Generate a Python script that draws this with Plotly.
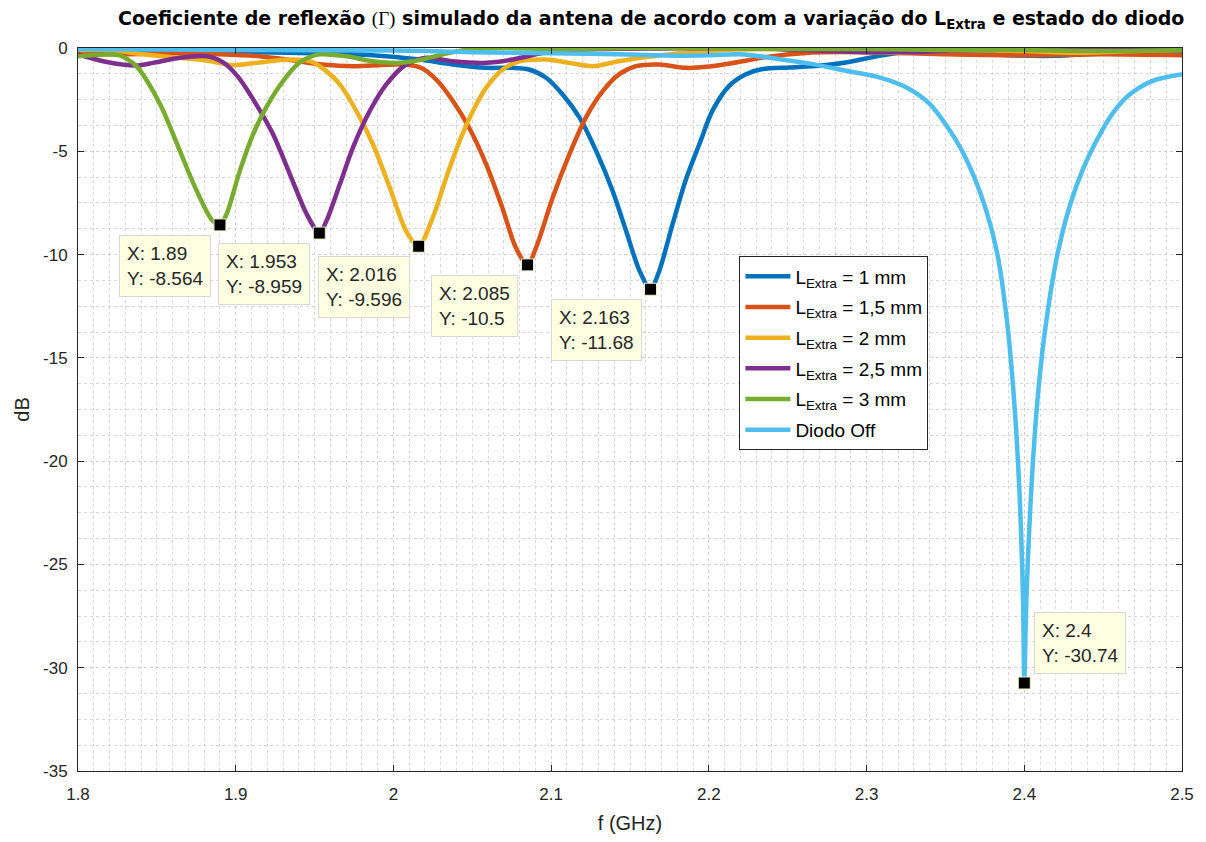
import plotly.graph_objects as go

# ---------------- data ----------------
f_l1 = [1.80, 1.85, 1.90, 1.95, 1.975, 1.995, 2.0166, 2.0377, 2.0588, 2.0755, 2.086, 2.0968,
        2.1073, 2.118, 2.1285, 2.139, 2.1475, 2.156, 2.163, 2.1686, 2.177, 2.1855, 2.194,
        2.2023, 2.2129, 2.2235, 2.234, 2.251, 2.27, 2.2868, 2.308, 2.329, 2.36, 2.39, 2.42,
        2.45, 2.50]
db_l1 = [-0.10, -0.15, -0.20, -0.25, -0.30, -0.40, -0.56, -0.80, -0.96, -0.96, -1.04, -1.44,
         -2.25, -3.37, -4.98, -6.92, -8.85, -10.78, -11.68, -10.78, -8.53, -6.35, -4.65,
         -3.03, -1.83, -1.27, -1.02, -0.94, -0.86, -0.70, -0.38, -0.14, -0.20, -0.35, -0.38,
         -0.25, -0.20]

f_l15 = [1.80, 1.83, 1.86, 1.89, 1.915, 1.936, 1.955, 1.975, 1.993, 2.008, 2.0187, 2.028,
         2.0377, 2.048, 2.0588, 2.069, 2.0775, 2.085, 2.0905, 2.101, 2.1116, 2.122, 2.1327,
         2.143, 2.1538, 2.1686, 2.1855, 2.2002, 2.2235, 2.234, 2.2656, 2.30, 2.35, 2.40,
         2.45, 2.50]
db_l15 = [-0.30, -0.30, -0.25, -0.30, -0.40, -0.60, -0.80, -0.88, -0.82, -0.80, -1.00, -1.60,
          -2.57, -3.86, -5.63, -7.72, -9.65, -10.50, -9.65, -7.24, -5.14, -3.37, -2.09,
          -1.28, -0.88, -0.80, -0.96, -0.90, -0.62, -0.46, -0.22, -0.20, -0.30, -0.35,
          -0.30, -0.35]

f_l2 = [1.80, 1.82, 1.841, 1.86, 1.877, 1.888, 1.898, 1.913, 1.934, 1.947, 1.9575, 1.966,
        1.9765, 1.987, 1.9976, 2.008, 2.016, 2.025, 2.0335, 2.042, 2.0504, 2.0588, 2.0693,
        2.08, 2.0968, 2.1116, 2.1263, 2.143, 2.1643, 2.1855, 2.21, 2.25, 2.28, 2.32, 2.36,
        2.40, 2.43, 2.47, 2.50]
db_l2 = [-0.10, -0.10, -0.30, -0.45, -0.56, -0.70, -0.83, -0.72, -0.56, -0.64, -1.12, -1.76,
         -3.05, -4.66, -6.74, -8.85, -9.596, -8.20, -6.27, -4.50, -3.05, -1.92, -1.04,
         -0.64, -0.56, -0.72, -0.88, -0.64, -0.40, -0.23, -0.10, -0.05, -0.10, -0.23, -0.10,
         -0.15, -0.23, -0.15, -0.10]

f_l25 = [1.80, 1.816, 1.837, 1.8477, 1.8646, 1.8815, 1.892, 1.9015, 1.913, 1.9237, 1.9343,
         1.945, 1.953, 1.9575, 1.966, 1.9743, 1.985, 1.9955, 2.008, 2.021, 2.0375, 2.0588,
         2.0755, 2.101, 2.13, 2.17, 2.22, 2.26, 2.30, 2.33, 2.36, 2.40, 2.44, 2.47, 2.50]
db_l25 = [-0.31, -0.64, -0.85, -0.72, -0.47, -0.40, -0.70, -1.40, -2.73, -4.18, -6.10,
          -8.04, -8.959, -8.37, -6.60, -4.82, -3.05, -1.76, -0.80, -0.47, -0.64, -0.72,
          -0.56, -0.15, -0.05, -0.02, 0.00, -0.10, -0.20, -0.20, -0.10, 0.00, 0.00, -0.10,
          0.00]

f_l3 = [1.80, 1.82, 1.8266, 1.837, 1.8519, 1.8646, 1.874, 1.8847, 1.89, 1.8942, 1.9026,
        1.911, 1.9195, 1.93, 1.9406, 1.953, 1.97, 1.987, 2.004, 2.0185, 2.029, 2.045, 2.07,
        2.10, 2.15, 2.20, 2.25, 2.30, 2.35, 2.40, 2.45, 2.50]
db_l3 = [-0.40, -0.30, -0.36, -0.88, -2.70, -4.98, -6.70, -8.30, -8.564, -8.04, -5.95,
         -4.18, -2.85, -1.60, -0.70, -0.31, -0.40, -0.64, -0.72, -0.56, -0.35, -0.10, 0.00,
         -0.05, 0.00, 0.00, -0.05, -0.05, -0.10, -0.10, -0.15, -0.10]

f_off = [1.80, 1.90, 2.00, 2.05, 2.10, 2.15, 2.18, 2.20, 2.22, 2.245, 2.266, 2.287, 2.308,
         2.325, 2.34, 2.35, 2.36, 2.368, 2.376, 2.383, 2.389, 2.393, 2.396, 2.398, 2.3993,
         2.40, 2.4012, 2.403, 2.4055, 2.409, 2.414, 2.421, 2.429, 2.437, 2.445, 2.4557,
         2.466, 2.481, 2.50]
db_off = [-0.05, -0.10, -0.12, -0.20, -0.25, -0.32, -0.37, -0.35, -0.30, -0.54, -0.78, -1.10,
          -1.42, -1.90, -2.70, -3.68, -4.90, -6.20, -7.90, -10.00, -13.20, -16.50, -20.00,
          -23.50, -27.00, -30.74, -27.00, -23.50, -20.00, -16.50, -13.20, -10.00, -7.60,
          -5.90, -4.60, -3.20, -2.30, -1.60, -1.27]

series_names = ["L<sub>Extra</sub> = 1 mm", "L<sub>Extra</sub> = 1,5 mm",
                "L<sub>Extra</sub> = 2 mm", "L<sub>Extra</sub> = 2,5 mm",
                "L<sub>Extra</sub> = 3 mm", "Diodo Off"]
series_colors = ["#0072BD", "#D95319", "#EDB120", "#7E2F8E", "#77AC30", "#4DBEEE"]

tip_x = [1.89, 1.953, 2.016, 2.085, 2.163, 2.4]
tip_y = [-8.564, -8.959, -9.596, -10.5, -11.68, -30.74]

x_tickvals = [1.8, 1.9, 2.0, 2.1, 2.2, 2.3, 2.4, 2.5]
x_ticktext = ["1.8", "1.9", "2", "2.1", "2.2", "2.3", "2.4", "2.5"]
y_tickvals = [0, -5, -10, -15, -20, -25, -30, -35]
y_ticktext = ["0", "-5", "-10", "-15", "-20", "-25", "-30", "-35"]

# ---------------- figure ----------------
FONT = "Liberation Sans, Arial, Helvetica, sans-serif"
fig = go.Figure()
xs = [f_l1, f_l15, f_l2, f_l25, f_l3, f_off]
ys = [db_l1, db_l15, db_l2, db_l25, db_l3, db_off]
for k, (fx, fy, nm, col) in enumerate(zip(xs, ys, series_names, series_colors)):
    fig.add_trace(go.Scatter(x=fx, y=fy, name=nm, mode="lines", legendgroup=f"g{k}",
                             line=dict(color=col, width=4.5, shape="spline", smoothing=0.8)))

fig.add_trace(go.Scatter(x=tip_x, y=tip_y, mode="markers", showlegend=False,
                         marker=dict(symbol="square", size=12, color="black",
                                     line=dict(color="#F0F0C8", width=1))))

for i, (tx, ty) in enumerate(zip(tip_x, tip_y)):
    last = i == len(tip_x) - 1
    fig.add_annotation(x=tx, y=ty, xref="x", yref="y", showarrow=False,
                       text=f"X: {tx}<br>Y: {ty}", align="left",
                       xanchor="left" if last else "right",
                       yanchor="bottom" if last else "top",
                       xshift=10 if last else -9, yshift=9 if last else -10,
                       bgcolor="#FFFFE1", bordercolor="#D8D8D8", borderwidth=1,
                       borderpad=7, font=dict(family=FONT, size=19, color="#262626"))

axis_common = dict(showline=True, linecolor="#262626", linewidth=1, mirror="ticks",
                   ticks="inside", ticklen=6, tickcolor="#262626",
                   showgrid=True, gridcolor="#D0D0D0", griddash="dot", gridwidth=1,
                   zeroline=False, tickfont=dict(family=FONT, size=17, color="#262626"))

fig.update_xaxes(range=[1.8, 2.5], tickmode="array", tickvals=x_tickvals,
                 ticktext=x_ticktext, ticklabelstandoff=8,
                 minor=dict(dtick=0.01, showgrid=True, gridcolor="#D8D8D8",
                            griddash="dot", gridwidth=1, ticks=""),
                 title=dict(text="f (GHz)", font=dict(family=FONT, size=20, color="#262626"),
                            standoff=12),
                 **axis_common)
fig.update_yaxes(range=[-35, 0], tickmode="array", tickvals=y_tickvals,
                 ticktext=y_ticktext, ticklabelstandoff=6,
                 minor=dict(dtick=1.25, tick0=0, showgrid=True, gridcolor="#D8D8D8",
                            griddash="dot", gridwidth=1, ticks=""),
                 title=dict(text="dB", font=dict(family=FONT, size=20, color="#262626"),
                            standoff=8),
                 **axis_common)

title_text = ("<b>Coeficiente de reflexão "
              "<span style=\"font-family:'Liberation Serif';font-weight:normal\">(Γ)</span> "
              "simulado da antena de acordo com a variação do L<sub>Extra</sub> e estado do diodo</b>")

fig.update_layout(
    width=1206, height=842,
    margin=dict(l=78, r=23, t=48, b=69),
    paper_bgcolor="white", plot_bgcolor="white",
    title=dict(text=title_text,
               x=118 / 1206, xanchor="left", xref="container", y=1 - 18 / 842, yanchor="middle",
               yref="container", font=dict(family="DejaVu Sans, sans-serif", size=19, color="#000000")),
    legend=dict(x=(740 - 78) / 1105, y=(773 - 257) / 725, xanchor="left", yanchor="top",
                bgcolor="white", bordercolor="#262626", borderwidth=1, itemwidth=45,
                font=dict(family=FONT, size=19, color="#000000"), tracegroupgap=3),
    showlegend=True,
)

fig.write_html("out.html")
